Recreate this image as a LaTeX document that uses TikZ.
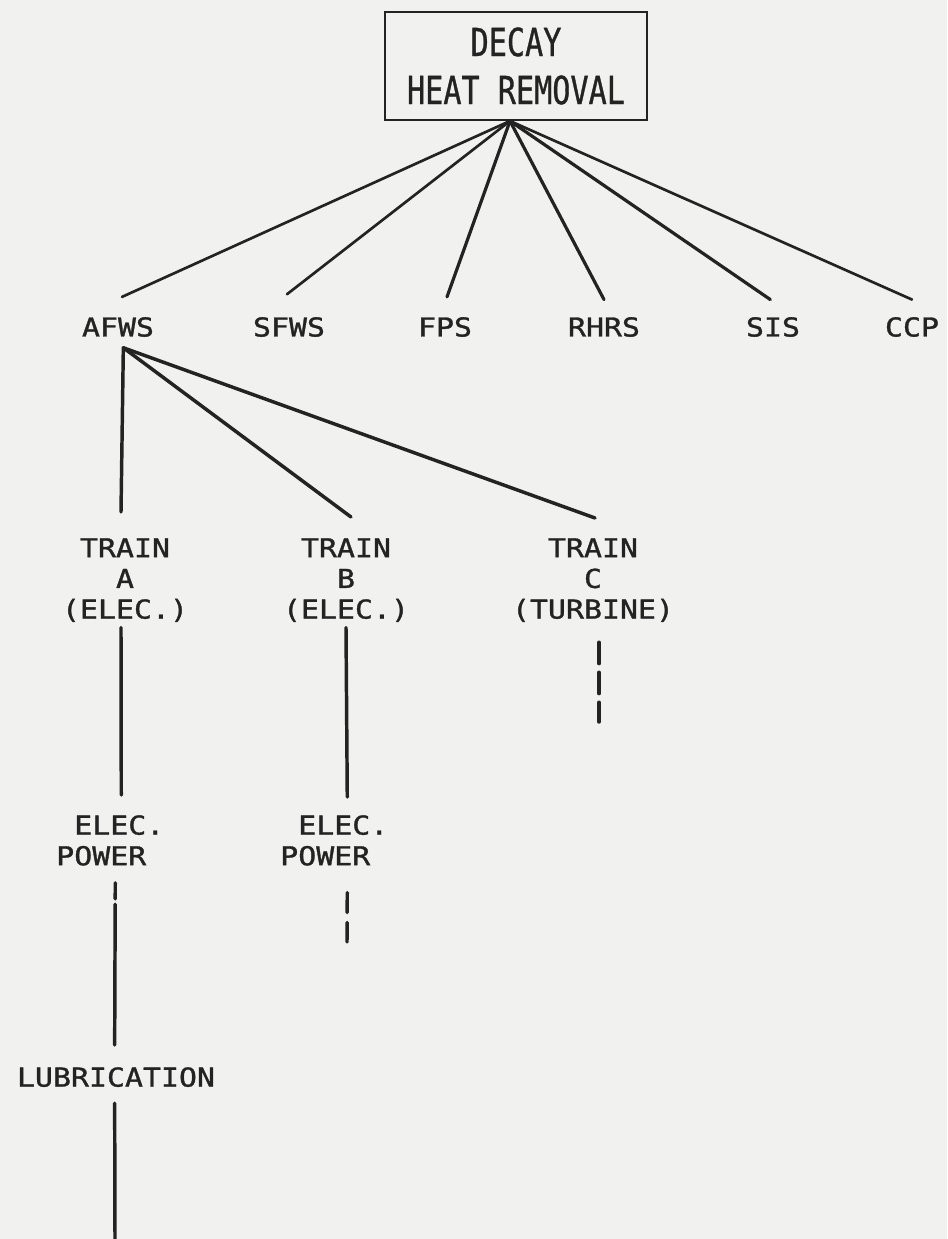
\documentclass[tikz,border=0pt]{standalone}
\usepackage{fontspec}
\newfontfamily\lblfont[FakeStretch=1.15,FakeBold=1.2]{DejaVu Sans Mono}
\newfontfamily\boxfont[FakeStretch=0.78,FakeBold=0.8]{DejaVu Sans Mono}
\definecolor{paper}{RGB}{241,241,239}
\definecolor{ink}{RGB}{35,35,35}
\begin{document}
\begin{tikzpicture}[x=0.75pt,y=-0.75pt,line cap=round,
  top node/.style={draw=ink,line width=1.5pt,minimum width=196.5pt,minimum height=81pt,inner sep=0pt,align=center,text=ink,font=\boxfont\fontsize{29}{36}\selectfont},
  sys node/.style={inner sep=0pt,align=center,text=ink,font=\lblfont\fontsize{19.5}{23}\selectfont}]
\fill[paper] (0,0) rectangle (947,1239);
\useasboundingbox (0,0) rectangle (947,1239);
\begin{scope}
\node[top node] (dhr) at (516,66) {DECAY\\HEAT REMOVAL};%top
\node[sys node] (afws) at (118,327) {AFWS};%1
\node[sys node] (sfws) at (289,327) {SFWS};%2
\node[sys node] (fps) at (445,327) {FPS};%3
\node[sys node] (rhrs) at (604,327) {RHRS};%4
\node[sys node] (sis) at (773,327) {SIS};%5
\node[sys node] (ccp) at (912,327) {CCP};%6
\node[sys node,anchor=north] (traina) at (125,538) {TRAIN\\A\\(ELEC.)};%A
\node[sys node,anchor=north] (trainb) at (346,538) {TRAIN\\B\\(ELEC.)};%B
\node[sys node,anchor=north] (trainc) at (593,538) {TRAIN\\C\\(TURBINE)};%C
\node[sys node,anchor=north west,align=left] (eleca) at (56,815) {\hphantom{E}ELEC.\\POWER};
\node[sys node,anchor=north west,align=left] (elecb) at (280,815) {\hphantom{E}ELEC.\\POWER};
\node[sys node,anchor=north] (lub) at (116,1067) {LUBRICATION};
\coordinate (trainc-end) at (599,722);
\coordinate (elecb-end) at (347,942);
\coordinate (lub-end) at (115,1239);
\end{scope}
\begin{scope}[every edge/.style={draw=ink,line width=2pt}]
\draw ([xshift=-4.5pt]dhr.south) edge ([xshift=3pt,yshift=15pt]afws.north);
\draw ([xshift=-4.5pt]dhr.south) edge ([xshift=-1.5pt,yshift=17pt]sfws.north);
\draw ([xshift=-4.5pt]dhr.south) edge[line width=2.4pt] ([xshift=1.5pt,yshift=15pt]fps.north);
\draw ([xshift=-4.5pt]dhr.south) edge[line width=2.4pt] ([yshift=13pt]rhrs.north);
\draw ([xshift=-4.5pt]dhr.south) edge[line width=2.4pt] ([xshift=-2pt,yshift=13pt]sis.north);
\draw ([xshift=-4.5pt]dhr.south) edge ([yshift=13pt]ccp.north);
\end{scope}
\begin{scope}[every edge/.style={draw=ink,line width=2.6pt}]
\draw ([xshift=4pt,yshift=-8pt]afws.south) edge ([xshift=-3pt,yshift=19.5pt]traina.north);
\draw ([xshift=4pt,yshift=-8pt]afws.south) edge ([xshift=3.75pt,yshift=15.75pt]trainb.north);
\draw ([xshift=4pt,yshift=-8pt]afws.south) edge ([xshift=1.5pt,yshift=15pt]trainc.north);
\draw ([xshift=-3pt,yshift=-4pt]traina.south) edge ([xshift=8.25pt,yshift=15pt]eleca.north);
\draw ([yshift=-4pt]trainb.south) edge ([xshift=9.75pt,yshift=13.5pt]elecb.north);
\draw ([xshift=3.75pt,yshift=-12.75pt]eleca.south) edge[dash pattern=on 12pt off 4pt on 150pt off 1pt] ([xshift=-1pt,yshift=16.5pt]lub.north);
\draw ([xshift=-1pt,yshift=-12pt]lub.south) edge (lub-end);
\draw ([xshift=4.5pt,yshift=-15pt]trainc.south) edge[dash pattern=on 16pt off 6.5pt] (trainc-end);
\draw ([xshift=9.75pt,yshift=-20pt]elecb.south) edge[dash pattern=on 15pt off 7.5pt] (elecb-end);
\end{scope}
\end{tikzpicture}
\end{document}
